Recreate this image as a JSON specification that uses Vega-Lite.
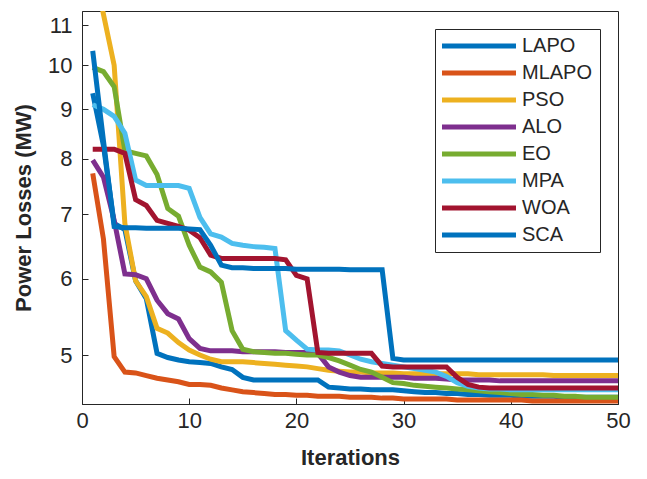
{
  "$schema": "https://vega.github.io/schema/vega-lite/v6.json",
  "width": 536,
  "height": 393,
  "autosize": "none",
  "padding": {"left": 82, "top": 11, "right": 29, "bottom": 75},
  "background": "white",
  "config": {
    "view": {"stroke": "#262626", "strokeWidth": 1},
    "font": "Liberation Sans"
  },
  "data": {
    "values": [
      {"Iteration": 1, "LAPO": 9.35, "MLAPO": 7.72, "PSO": 12.8, "ALO": 7.97, "EO": 9.95, "MPA": 9.1, "WOA": 8.18, "SCA": 10.35},
      {"Iteration": 2, "LAPO": 8.25, "MLAPO": 6.6, "PSO": 11.3, "ALO": 7.65, "EO": 9.85, "MPA": 9.0, "WOA": 8.18, "SCA": 8.35},
      {"Iteration": 3, "LAPO": 6.85, "MLAPO": 4.98, "PSO": 10.0, "ALO": 6.9, "EO": 9.5, "MPA": 8.85, "WOA": 8.18, "SCA": 6.8},
      {"Iteration": 4, "LAPO": 6.75, "MLAPO": 4.8, "PSO": 6.85, "ALO": 6.07, "EO": 8.15, "MPA": 8.5, "WOA": 8.1, "SCA": 6.78},
      {"Iteration": 5, "LAPO": 5.97, "MLAPO": 4.79, "PSO": 5.97, "ALO": 6.06, "EO": 8.1, "MPA": 7.6, "WOA": 7.25, "SCA": 6.78},
      {"Iteration": 6, "LAPO": 5.72, "MLAPO": 4.76, "PSO": 5.75, "ALO": 6.0, "EO": 8.05, "MPA": 7.5, "WOA": 7.15, "SCA": 6.77},
      {"Iteration": 7, "LAPO": 5.02, "MLAPO": 4.73, "PSO": 5.33, "ALO": 5.7, "EO": 7.7, "MPA": 7.5, "WOA": 6.9, "SCA": 6.77},
      {"Iteration": 8, "LAPO": 4.97, "MLAPO": 4.71, "PSO": 5.27, "ALO": 5.52, "EO": 7.1, "MPA": 7.5, "WOA": 6.85, "SCA": 6.77},
      {"Iteration": 9, "LAPO": 4.94, "MLAPO": 4.69, "PSO": 5.15, "ALO": 5.45, "EO": 6.97, "MPA": 7.5, "WOA": 6.8, "SCA": 6.77},
      {"Iteration": 10, "LAPO": 4.92, "MLAPO": 4.66, "PSO": 5.06, "ALO": 5.2, "EO": 6.5, "MPA": 7.45, "WOA": 6.74, "SCA": 6.76},
      {"Iteration": 11, "LAPO": 4.91, "MLAPO": 4.66, "PSO": 5.0, "ALO": 5.08, "EO": 6.17, "MPA": 6.95, "WOA": 6.62, "SCA": 6.75},
      {"Iteration": 12, "LAPO": 4.9, "MLAPO": 4.65, "PSO": 4.95, "ALO": 5.05, "EO": 6.1, "MPA": 6.68, "WOA": 6.35, "SCA": 6.5},
      {"Iteration": 13, "LAPO": 4.86, "MLAPO": 4.62, "PSO": 4.92, "ALO": 5.05, "EO": 5.95, "MPA": 6.63, "WOA": 6.3, "SCA": 6.2},
      {"Iteration": 14, "LAPO": 4.83, "MLAPO": 4.6, "PSO": 4.92, "ALO": 5.05, "EO": 5.3, "MPA": 6.53, "WOA": 6.3, "SCA": 6.16},
      {"Iteration": 15, "LAPO": 4.74, "MLAPO": 4.58, "PSO": 4.92, "ALO": 5.04, "EO": 5.07, "MPA": 6.5, "WOA": 6.3, "SCA": 6.16},
      {"Iteration": 16, "LAPO": 4.71, "MLAPO": 4.57, "PSO": 4.91, "ALO": 5.04, "EO": 5.04, "MPA": 6.48, "WOA": 6.3, "SCA": 6.15},
      {"Iteration": 17, "LAPO": 4.71, "MLAPO": 4.56, "PSO": 4.9, "ALO": 5.04, "EO": 5.03, "MPA": 6.47, "WOA": 6.3, "SCA": 6.15},
      {"Iteration": 18, "LAPO": 4.71, "MLAPO": 4.55, "PSO": 4.89, "ALO": 5.04, "EO": 5.02, "MPA": 6.45, "WOA": 6.3, "SCA": 6.15},
      {"Iteration": 19, "LAPO": 4.71, "MLAPO": 4.55, "PSO": 4.88, "ALO": 5.03, "EO": 5.02, "MPA": 5.3, "WOA": 6.28, "SCA": 6.15},
      {"Iteration": 20, "LAPO": 4.71, "MLAPO": 4.54, "PSO": 4.87, "ALO": 5.03, "EO": 5.01, "MPA": 5.18, "WOA": 6.05, "SCA": 6.14},
      {"Iteration": 21, "LAPO": 4.71, "MLAPO": 4.54, "PSO": 4.86, "ALO": 5.03, "EO": 5.0, "MPA": 5.07, "WOA": 6.0, "SCA": 6.14},
      {"Iteration": 22, "LAPO": 4.71, "MLAPO": 4.53, "PSO": 4.84, "ALO": 5.02, "EO": 5.0, "MPA": 5.06, "WOA": 5.03, "SCA": 6.14},
      {"Iteration": 23, "LAPO": 4.63, "MLAPO": 4.53, "PSO": 4.82, "ALO": 4.86, "EO": 4.97, "MPA": 5.06, "WOA": 5.02, "SCA": 6.14},
      {"Iteration": 24, "LAPO": 4.62, "MLAPO": 4.53, "PSO": 4.81, "ALO": 4.8, "EO": 4.93, "MPA": 5.05, "WOA": 5.02, "SCA": 6.14},
      {"Iteration": 25, "LAPO": 4.61, "MLAPO": 4.52, "PSO": 4.8, "ALO": 4.76, "EO": 4.88, "MPA": 5.0, "WOA": 5.02, "SCA": 6.13},
      {"Iteration": 26, "LAPO": 4.61, "MLAPO": 4.52, "PSO": 4.8, "ALO": 4.74, "EO": 4.83, "MPA": 4.95, "WOA": 5.02, "SCA": 6.13},
      {"Iteration": 27, "LAPO": 4.6, "MLAPO": 4.52, "PSO": 4.79, "ALO": 4.74, "EO": 4.8, "MPA": 4.92, "WOA": 5.02, "SCA": 6.13},
      {"Iteration": 28, "LAPO": 4.6, "MLAPO": 4.51, "PSO": 4.79, "ALO": 4.74, "EO": 4.74, "MPA": 4.9, "WOA": 4.87, "SCA": 6.13},
      {"Iteration": 29, "LAPO": 4.6, "MLAPO": 4.51, "PSO": 4.79, "ALO": 4.74, "EO": 4.68, "MPA": 4.88, "WOA": 4.86, "SCA": 4.96},
      {"Iteration": 30, "LAPO": 4.59, "MLAPO": 4.5, "PSO": 4.78, "ALO": 4.74, "EO": 4.67, "MPA": 4.86, "WOA": 4.86, "SCA": 4.94},
      {"Iteration": 31, "LAPO": 4.58, "MLAPO": 4.5, "PSO": 4.78, "ALO": 4.73, "EO": 4.65, "MPA": 4.84, "WOA": 4.86, "SCA": 4.94},
      {"Iteration": 32, "LAPO": 4.57, "MLAPO": 4.5, "PSO": 4.78, "ALO": 4.73, "EO": 4.64, "MPA": 4.82, "WOA": 4.86, "SCA": 4.94},
      {"Iteration": 33, "LAPO": 4.57, "MLAPO": 4.5, "PSO": 4.78, "ALO": 4.73, "EO": 4.63, "MPA": 4.8, "WOA": 4.86, "SCA": 4.94},
      {"Iteration": 34, "LAPO": 4.56, "MLAPO": 4.5, "PSO": 4.78, "ALO": 4.72, "EO": 4.62, "MPA": 4.75, "WOA": 4.86, "SCA": 4.94},
      {"Iteration": 35, "LAPO": 4.56, "MLAPO": 4.49, "PSO": 4.78, "ALO": 4.71, "EO": 4.61, "MPA": 4.68, "WOA": 4.74, "SCA": 4.94},
      {"Iteration": 36, "LAPO": 4.55, "MLAPO": 4.49, "PSO": 4.78, "ALO": 4.71, "EO": 4.6, "MPA": 4.64, "WOA": 4.66, "SCA": 4.94},
      {"Iteration": 37, "LAPO": 4.55, "MLAPO": 4.49, "PSO": 4.77, "ALO": 4.71, "EO": 4.59, "MPA": 4.62, "WOA": 4.63, "SCA": 4.94},
      {"Iteration": 38, "LAPO": 4.54, "MLAPO": 4.49, "PSO": 4.77, "ALO": 4.71, "EO": 4.58, "MPA": 4.61, "WOA": 4.62, "SCA": 4.94},
      {"Iteration": 39, "LAPO": 4.54, "MLAPO": 4.49, "PSO": 4.77, "ALO": 4.7, "EO": 4.57, "MPA": 4.61, "WOA": 4.62, "SCA": 4.94},
      {"Iteration": 40, "LAPO": 4.54, "MLAPO": 4.49, "PSO": 4.77, "ALO": 4.7, "EO": 4.56, "MPA": 4.6, "WOA": 4.62, "SCA": 4.94},
      {"Iteration": 41, "LAPO": 4.53, "MLAPO": 4.49, "PSO": 4.77, "ALO": 4.7, "EO": 4.55, "MPA": 4.6, "WOA": 4.62, "SCA": 4.94},
      {"Iteration": 42, "LAPO": 4.53, "MLAPO": 4.48, "PSO": 4.77, "ALO": 4.7, "EO": 4.55, "MPA": 4.6, "WOA": 4.62, "SCA": 4.94},
      {"Iteration": 43, "LAPO": 4.53, "MLAPO": 4.48, "PSO": 4.77, "ALO": 4.7, "EO": 4.54, "MPA": 4.6, "WOA": 4.62, "SCA": 4.94},
      {"Iteration": 44, "LAPO": 4.53, "MLAPO": 4.48, "PSO": 4.76, "ALO": 4.7, "EO": 4.54, "MPA": 4.6, "WOA": 4.62, "SCA": 4.94},
      {"Iteration": 45, "LAPO": 4.52, "MLAPO": 4.48, "PSO": 4.76, "ALO": 4.7, "EO": 4.53, "MPA": 4.6, "WOA": 4.62, "SCA": 4.94},
      {"Iteration": 46, "LAPO": 4.52, "MLAPO": 4.48, "PSO": 4.76, "ALO": 4.7, "EO": 4.53, "MPA": 4.6, "WOA": 4.62, "SCA": 4.94},
      {"Iteration": 47, "LAPO": 4.52, "MLAPO": 4.48, "PSO": 4.76, "ALO": 4.7, "EO": 4.52, "MPA": 4.6, "WOA": 4.62, "SCA": 4.94},
      {"Iteration": 48, "LAPO": 4.52, "MLAPO": 4.48, "PSO": 4.76, "ALO": 4.7, "EO": 4.52, "MPA": 4.6, "WOA": 4.62, "SCA": 4.94},
      {"Iteration": 49, "LAPO": 4.52, "MLAPO": 4.48, "PSO": 4.76, "ALO": 4.7, "EO": 4.52, "MPA": 4.6, "WOA": 4.62, "SCA": 4.94},
      {"Iteration": 50, "LAPO": 4.52, "MLAPO": 4.48, "PSO": 4.76, "ALO": 4.7, "EO": 4.52, "MPA": 4.6, "WOA": 4.62, "SCA": 4.94}
    ]
  },
  "transform": [
    {"fold": ["LAPO", "MLAPO", "PSO", "ALO", "EO", "MPA", "WOA", "SCA"], "as": ["Algorithm", "Loss"]}
  ],
  "mark": {"type": "line", "strokeWidth": 5, "clip": true},
  "encoding": {
    "x": {
      "field": "Iteration",
      "type": "quantitative",
      "scale": {"domain": [0, 50], "nice": false, "zero": false},
      "axis": {
        "title": "Iterations",
        "values": [0, 10, 20, 30, 40, 50],
        "grid": false,
        "labelFlush": false,
        "labelFontSize": 22,
        "labelColor": "#262626",
        "labelPadding": 12,
        "tickSize": -6,
        "tickColor": "#262626",
        "domainColor": "#262626",
        "titleFontSize": 22,
        "titleFontWeight": "bold",
        "titleColor": "#262626",
        "titlePadding": 16
      }
    },
    "y": {
      "field": "Loss",
      "type": "quantitative",
      "scale": {"type": "log", "domain": [4.447, 11.386], "nice": false},
      "axis": {
        "title": "Power Losses (MW)",
        "values": [5, 6, 7, 8, 9, 10, 11],
        "grid": false,
        "labelFontSize": 22,
        "labelColor": "#262626",
        "labelPadding": 16,
        "tickSize": -6,
        "tickColor": "#262626",
        "domainColor": "#262626",
        "titleFontSize": 22,
        "titleFontWeight": "bold",
        "titleColor": "#262626",
        "titlePadding": 12
      }
    },
    "color": {
      "field": "Algorithm",
      "type": "nominal",
      "scale": {
        "domain": ["LAPO", "MLAPO", "PSO", "ALO", "EO", "MPA", "WOA", "SCA"],
        "range": ["#0072BD", "#D95319", "#EDB120", "#7E2F8E", "#77AC30", "#4DBEEE", "#A2142F", "#0072BD"]
      },
      "legend": {
        "orient": "none",
        "legendX": 353,
        "legendY": 18,
        "title": null,
        "symbolType": "M-5,0H5",
        "symbolSize": 219,
        "symbolStrokeWidth": 5,
        "symbolOffset": 27,
        "labelOffset": 33,
        "labelFontSize": 20,
        "labelColor": "#262626",
        "rowPadding": 7,
        "padding": 7,
        "strokeColor": "#262626",
        "fillColor": "white"
      }
    }
  }
}
